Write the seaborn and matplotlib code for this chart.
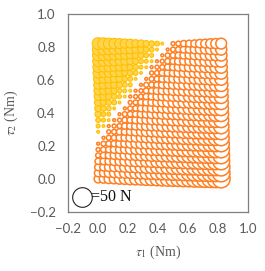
import numpy as np
import pandas as pd
import matplotlib
matplotlib.use("Agg")
import matplotlib.pyplot as plt
import seaborn as sns

# grid of joint torques (Nm)
tau1_values = [0.000, 0.036, 0.071, 0.107, 0.143, 0.178, 0.214, 0.250, 0.286, 0.321, 0.357, 0.393,
               0.428, 0.464, 0.500, 0.535, 0.571, 0.607, 0.643, 0.678, 0.714, 0.750, 0.785, 0.821]
tau2_values = [0.000, 0.036, 0.071, 0.107, 0.143, 0.178, 0.214, 0.250, 0.286, 0.321, 0.357, 0.393,
               0.428, 0.464, 0.500, 0.535, 0.571, 0.607, 0.643, 0.678, 0.714, 0.750, 0.785, 0.821]

# force (N) at each grid point; rows follow tau2, columns follow tau1
# positive -> orange open bubbles, negative -> yellow filled bubbles
force_rows = [
    [8, 9, 11, 12, 14, 15, 17, 18, 19, 21, 22, 24, 25, 27, 28, 29, 31, 32, 34, 35, 37, 38, 39, 41],
    [7, 8, 10, 11, 13, 14, 15, 17, 18, 20, 21, 23, 24, 25, 27, 28, 30, 31, 33, 34, 35, 37, 38, 40],
    [6, 7, 9, 10, 11, 13, 14, 16, 17, 19, 20, 21, 23, 24, 26, 27, 29, 30, 31, 33, 34, 36, 37, 39],
    [5, 6, 7, 9, 10, 12, 13, 15, 16, 17, 19, 20, 22, 23, 25, 26, 27, 29, 30, 32, 33, 35, 36, 37],
    [3, 5, 6, 8, 9, 11, 12, 13, 15, 16, 18, 19, 21, 22, 23, 25, 26, 28, 29, 31, 32, 33, 35, 36],
    [2, 4, 5, 7, 8, 9, 11, 12, 14, 15, 17, 18, 19, 21, 22, 24, 25, 27, 28, 29, 31, 32, 34, 35],
    [1, 3, 4, 5, 7, 8, 10, 11, 13, 14, 15, 17, 18, 20, 21, 23, 24, 25, 27, 28, 30, 31, 33, 34],
    [0, 1, 3, 4, 6, 7, 9, 10, 11, 13, 14, 16, 17, 19, 20, 21, 23, 24, 26, 27, 29, 30, 31, 33],
    [-1, 0, 2, 3, 5, 6, 7, 9, 10, 12, 13, 15, 16, 17, 19, 20, 22, 23, 25, 26, 27, 29, 30, 32],
    [-2, -1, 1, 2, 3, 5, 6, 8, 9, 11, 12, 13, 15, 16, 18, 19, 21, 22, 23, 25, 26, 28, 29, 31],
    [-3, -2, -1, 1, 2, 4, 5, 7, 8, 9, 11, 12, 14, 15, 17, 18, 19, 21, 22, 24, 25, 27, 28, 29],
    [-5, -3, -2, 0, 1, 3, 4, 5, 7, 8, 10, 11, 13, 14, 15, 17, 18, 20, 21, 23, 24, 25, 27, 28],
    [-6, -4, -3, -1, 0, 1, 3, 4, 6, 7, 9, 10, 11, 13, 14, 16, 17, 19, 20, 21, 23, 24, 26, 27],
    [-7, -5, -4, -3, -1, 0, 2, 3, 5, 6, 7, 9, 10, 12, 13, 15, 16, 17, 19, 20, 22, 23, 25, 26],
    [-8, -7, -5, -4, -2, -1, 1, 2, 3, 5, 6, 8, 9, 11, 12, 13, 15, 16, 18, 19, 21, 22, 23, 25],
    [-9, -8, -6, -5, -3, -2, -1, 1, 2, 4, 5, 7, 8, 9, 11, 12, 14, 15, 17, 18, 19, 21, 22, 24],
    [-10, -9, -7, -6, -5, -3, -2, 0, 1, 3, 4, 5, 7, 8, 10, 11, 13, 14, 15, 17, 18, 20, 21, 23],
    [-11, -10, -9, -7, -6, -4, -3, -1, 0, 1, 3, 4, 6, 7, 9, 10, 11, 13, 14, 16, 17, 19, 20, 21],
    [-13, -11, -10, -8, -7, -5, -4, -3, -1, 0, 2, 3, 5, 6, 7, 9, 10, 12, 13, 15, 16, 17, 19, 20],
    [-14, -12, -11, -9, -8, -7, -5, -4, -2, -1, 1, 2, 3, 5, 6, 8, 9, 11, 12, 13, 15, 16, 18, 19],
    [-15, -13, -12, -11, -9, -8, -6, -5, -3, -2, -1, 1, 2, 4, 5, 7, 8, 9, 11, 12, 14, 15, 17, 18],
    [-16, -15, -13, -12, -10, -9, -7, -6, -5, -3, -2, 0, 1, 3, 4, 5, 7, 8, 10, 11, 13, 14, 15, 17],
    [-17, -16, -14, -13, -11, -10, -9, -7, -6, -4, -3, -1, 0, 1, 3, 4, 6, 7, 9, 10, 11, 13, 14, 16],
    [-18, -17, -15, -14, -13, -11, -10, -8, -7, -5, -4, -3, -1, 0, 2, 3, 5, 6, 7, 9, 10, 12, 13, 15],
]

legend_force = 50
legend_label = "=50 N"
tick_values = [-0.2, 0.0, 0.2, 0.4, 0.6, 0.8, 1.0]

records = []
for i, t2 in enumerate(tau2_values):
    for k, t1 in enumerate(tau1_values):
        f = force_rows[i][k]
        records.append({"tau1": t1, "tau2": t2, "force": abs(f), "kind": "pos" if f > 0 else "neg"})
df = pd.DataFrame(records)
df_pos = df[df["kind"] == "pos"]
df_neg = df[df["kind"] == "neg"]
df_leg = pd.DataFrame({"tau1": [-0.106], "tau2": [-0.109], "force": [legend_force]})

sns.set_style("white")
plt.rcParams["mathtext.fontset"] = "stix"

fig = plt.figure(figsize=(2.65, 2.71), dpi=100)
ax = fig.add_axes([0.257, 0.218, 0.679, 0.730])

SMAX = 200.0  # marker area (pt^2) for 50 N
sns.scatterplot(data=df_neg, x="tau1", y="tau2", size="force", sizes=(0, SMAX), size_norm=(0, 50),
                color="#FFD44F", edgecolor="#FFC000", linewidth=0.8, legend=False, ax=ax)
sns.scatterplot(data=df_pos, x="tau1", y="tau2", size="force", sizes=(0, SMAX), size_norm=(0, 50),
                color="white", edgecolor="#FF7F22", linewidth=1.1, legend=False, ax=ax)
sns.scatterplot(data=df_leg, x="tau1", y="tau2", size="force", sizes=(0, SMAX), size_norm=(0, 50),
                color="white", edgecolor="#222222", linewidth=0.8, legend=False, ax=ax)
ax.text(-0.05, -0.112, legend_label, ha="left", va="center", fontsize=11.5,
        family="Liberation Serif", color="#111111")

ax.set_xlim(-0.2, 1.0)
ax.set_ylim(-0.2, 1.0)
ax.set_xticks(tick_values)
ax.set_yticks(tick_values)
ax.set_xticklabels([f"{v:.1f}".replace("-", "\u2212") for v in tick_values])
ax.set_yticklabels([f"{v:.1f}".replace("-", "\u2212") for v in tick_values])
ax.tick_params(direction="in", length=3.5, width=0.8, colors="#7f7f7f", labelcolor="#595959",
               labelsize=9.5, top=False, right=False)
ax.tick_params(axis="x", pad=8)
ax.tick_params(axis="y", pad=9)
for lab in ax.get_xticklabels() + ax.get_yticklabels():
    lab.set_family("Lato")
for sp in ax.spines.values():
    sp.set_color("#7f7f7f")
    sp.set_linewidth(0.9)

ax.set_xlabel(r"$\tau_1$ (Nm)", fontsize=10, color="#595959", family="Liberation Serif", labelpad=6)
ax.set_ylabel(r"$\tau_2$ (Nm)", fontsize=10, color="#595959", family="Liberation Serif", labelpad=7)

fig.savefig("out.png", dpi=100)
